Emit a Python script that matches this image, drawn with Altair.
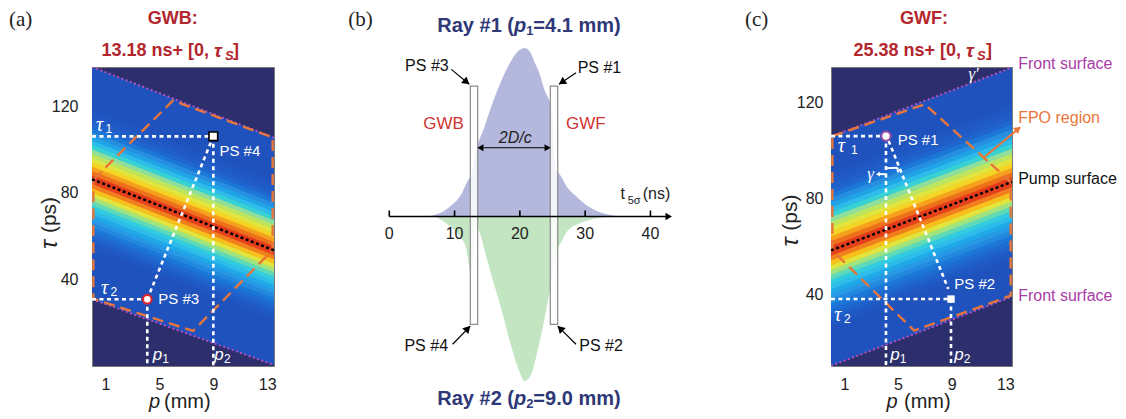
import math
import altair as alt
import pandas as pd

FONT = "Liberation Sans"
SERIF = "Liberation Serif"
NAVY = "#2c2f6c"
BG_BLUE = "#1f52bd"
FRAME = "#7a7a7a"
MAGENTA = "#b44fc2"
MAG_TEXT = "#a83da8"
ORANGE = "#e8763a"
TITLE_RED = "#b3262d"
LABEL_RED = "#cf3434"
RAY_BLUE = "#2f3877"
WHITE = "#ffffff"
INK = "#222222"

ONE = pd.DataFrame({"k": [0]})

# ---------------- heat-map band profile (offset from pump surface, ps) ----------------
band_edges = list(range(-32, 34, 2))
band_level = [0.16, 0.17, 0.19, 0.21, 0.23, 0.26, 0.29, 0.32, 0.36, 0.40, 0.46, 0.53,
              0.62, 0.72, 0.85, 0.97, 0.98, 0.88, 0.78, 0.68, 0.62, 0.56, 0.50, 0.42,
              0.36, 0.31, 0.27, 0.23, 0.20, 0.18, 0.17, 0.16]
level_domain = [0.15, 0.20, 0.28, 0.38, 0.50, 0.57, 0.65, 0.82, 1.0]
level_colors = ["#1f52bd", "#2166cf", "#2d94e2", "#3cc6ea", "#8fdf9c", "#c8e655",
                "#f3e42e", "#f48b22", "#e22b1c"]

front_p = [0.0, 13.5]
p_ticks = [1, 5, 9, 13]
tau_ticks = [40, 80, 120]

# ---------------- panel (a) GWB ----------------
a_tau_dom = [0, 138]
a_front_upper = [138.0, 105.4]
a_front_lower = [30.8, 0.5]
a_pump = [86.2, 53.4]
a_fpo_p = [0.1, 6.0, 13.4, 13.4, 7.5, 0.1, 0.1]
a_fpo_tau = [86.0, 122.5, 105.5, 53.5, 16.2, 31.0, 86.0]
a_ps_names = ["PS #3", "PS #4"]
a_ps_p = [4.1, 9.0]
a_ps_tau = [30.8, 106.0]

# ---------------- panel (c) GWF ----------------
c_tau_dom = [10.5, 134.7]
c_front_upper = [105.8, 134.5]
c_front_lower = [10.6, 39.3]
c_pump = [58.5, 87.0]
c_fpo_p = [0.1, 7.0, 13.4, 13.4, 6.2, 0.1, 0.1]
c_fpo_tau = [106.0, 119.2, 87.0, 39.7, 25.2, 58.5, 106.0]
c_ps_names = ["PS #1", "PS #2"]
c_ps_p = [4.1, 8.95]
c_ps_tau = [106.0, 38.3]
c_diag_p = [4.3, 8.75]
c_diag_tau = [104.0, 42.5]

# ---------------- panel (b) rays ----------------
ray1_t = [5.4, 6.4, 7.9, 9.4, 11.0, 12.0, 12.6, 13.3, 14.55, 15.6, 17.1, 18.6, 19.7, 20.7,
          21.5, 22.2, 23.0, 23.7, 24.9, 25.5, 25.9, 27.3, 28.9, 30.4, 32.4, 34.5, 36.0]
ray1_h = [0, 0.005, 0.022, 0.062, 0.13, 0.21, 0.25, 0.39, 0.53, 0.65, 0.80, 0.92, 0.98, 1.0,
          0.98, 0.92, 0.85, 0.76, 0.63, 0.27, 0.26, 0.17, 0.11, 0.062, 0.023, 0.005, 0]
ray2_t = [6.9, 8.9, 10.5, 11.75, 12.5, 13.45, 13.8, 14.6, 15.6, 17.1, 18.6, 19.9, 20.7, 21.7,
          22.7, 23.7, 24.7, 25.7, 25.9, 27.3, 29.4, 31.9, 34.0]
ray2_h = [0, 0.046, 0.106, 0.185, 0.33, 0.06, 0.09, 0.2, 0.343, 0.54, 0.76, 0.917, 0.976, 0.94,
          0.80, 0.62, 0.42, 0.19, 0.18, 0.086, 0.037, 0.01, 0]
b_ticks = [0, 10, 20, 30, 40]
win_t1 = [12.41, 24.66]
win_t2 = [13.54, 25.80]
win_top = 0.774
win_bottom = -0.64

B_T_DOM = [-10, 60]
B_H_DOM = [-0.887, 0.887]
W_A, W_B, W_C, H = 182, 457, 181, 299


def head_angle(dx_px, dy_px):
    return math.degrees(math.atan2(dx_px, -dy_px)) % 360


def heat_panel(tau_dom, upper, lower, pump, fpo_p, fpo_tau, segs, ylabpad):
    xs = alt.Scale(domain=front_p, nice=False, zero=False)
    ys = alt.Scale(domain=tau_dom, nice=False, zero=False)
    common = dict(title=None, ticks=False, tickSize=0, domain=False, grid=False,
                  labelFont=FONT, labelFontSize=16, labelColor=INK, labelFlush=False)
    xa = alt.Axis(values=p_ticks, labelPadding=10, **common)
    ya = alt.Axis(values=tau_ticks, labelPadding=ylabpad, **common)
    X = lambda f: alt.X(f"{f}:Q", scale=xs, axis=xa)
    Y = lambda f: alt.Y(f"{f}:Q", scale=ys, axis=ya)

    region = pd.DataFrame({"p": front_p, "lo": lower, "hi": upper})
    layers = [alt.Chart(region).mark_area(color=BG_BLUE, clip=True).encode(
        x=X("p"), y=Y("lo"), y2=alt.Y2("hi:Q"))]

    rows = []
    for k, lev in enumerate(band_level):
        for p, c in zip(front_p, pump):
            rows.append({"p": p, "lo": c + band_edges[k], "hi": c + band_edges[k + 1],
                         "level": lev, "stripe": k})
    cs = alt.Scale(domain=level_domain, range=level_colors)
    layers.append(alt.Chart(pd.DataFrame(rows)).mark_area(strokeWidth=0.8, clip=True).encode(
        x=X("p"), y=Y("lo"), y2=alt.Y2("hi:Q"),
        color=alt.Color("level:Q", scale=cs, legend=None),
        stroke=alt.Stroke("level:Q", scale=cs, legend=None),
        detail="stripe:N"))

    fr = pd.DataFrame({"p": front_p + front_p, "tau": upper + lower,
                       "which": ["u", "u", "l", "l"]})
    layers.append(alt.Chart(fr).mark_line(color=MAGENTA, strokeDash=[2, 2.5], strokeWidth=2,
                                          clip=True).encode(
        x=X("p"), y=Y("tau"), detail="which:N"))

    fpo = pd.DataFrame({"p": fpo_p, "tau": fpo_tau, "i": list(range(len(fpo_p)))})
    layers.append(alt.Chart(fpo).mark_line(color=ORANGE, strokeDash=[11, 6], strokeWidth=2.4).encode(
        x=X("p"), y=Y("tau"), order="i:Q"))

    pm = pd.DataFrame({"p": front_p, "tau": pump})
    layers.append(alt.Chart(pm).mark_line(color="black", strokeDash=[3, 2.5], strokeWidth=2.5).encode(
        x=X("p"), y=Y("tau")))

    sg = pd.DataFrame(segs, columns=["pa", "ta", "pb", "tb"])
    layers.append(alt.Chart(sg).mark_rule(color=WHITE, strokeDash=[4, 3.5], strokeWidth=2.6).encode(
        x=X("pa"), x2=alt.X2("pb:Q"), y=Y("ta"), y2=alt.Y2("tb:Q")))
    return X, Y, layers


def dtexts(X, Y, items, **kw):
    df = pd.DataFrame(items, columns=["p", "tau", "label"])
    style = dict(font=FONT, baseline="middle")
    style.update(kw)
    return alt.Chart(df).mark_text(**style).encode(x=X("p"), y=Y("tau"), text="label:N")


def ptext(label, x, y, **kw):
    style = dict(font=FONT, baseline="middle")
    style.update(kw)
    return alt.Chart(ONE).mark_text(text=label, **style).encode(x=alt.value(x), y=alt.value(y))


def title_block(head, prefix, center_x, prefix_right, tau_x, s_x, br_x):
    st = dict(fontWeight="bold", color=TITLE_RED)
    return [
        ptext(head, center_x, -47.7, fontSize=18, align="center", **st),
        ptext(prefix, prefix_right, -16, fontSize=18, align="right", **st),
        ptext("τ", tau_x, -16, fontSize=19, align="left", fontStyle="italic", **st),
        ptext("S", s_x, -11, fontSize=13, align="left", fontStyle="italic", **st),
        ptext("]", br_x, -16, fontSize=18, align="left", **st),
    ]


def axis_titles(xp, xmm, ytx):
    return [
        ptext("p", xp, 335, fontSize=20, fontStyle="italic", align="left", color=INK),
        ptext("(mm)", xmm, 335, fontSize=20, align="left", color=INK),
        ptext("τ", ytx[0], ytx[1], fontSize=24, fontStyle="italic", align="center", angle=270, color=INK),
        ptext("(ps)", ytx[0], ytx[2], fontSize=21, align="center", angle=270, color=INK),
    ]


# ================= panel (a) =================
a_segs = [
    (0, a_ps_tau[1], a_ps_p[1], a_ps_tau[1]),
    (0, a_ps_tau[0], a_ps_p[0], a_ps_tau[0]),
    (a_ps_p[0], a_ps_tau[0], a_ps_p[0], a_tau_dom[0]),
    (a_ps_p[1], a_ps_tau[1], a_ps_p[1], a_tau_dom[0]),
    (a_ps_p[0], a_ps_tau[0], a_ps_p[1], a_ps_tau[1]),
]
XA, YA, la = heat_panel(a_tau_dom, a_front_upper, a_front_lower, a_pump, a_fpo_p, a_fpo_tau, a_segs, 14)
ps3 = pd.DataFrame({"p": [a_ps_p[0]], "tau": [a_ps_tau[0]]})
ps4 = pd.DataFrame({"p": [a_ps_p[1]], "tau": [a_ps_tau[1]]})
la.append(alt.Chart(ps3).mark_point(shape="circle", filled=True, color=WHITE, stroke="#e0262a",
                                    strokeWidth=2.2, size=75, opacity=1).encode(x=XA("p"), y=YA("tau")))
la.append(alt.Chart(ps4).mark_point(shape="square", filled=True, color=WHITE, stroke="black",
                                    strokeWidth=1.6, size=75, opacity=1).encode(x=XA("p"), y=YA("tau")))
la.append(dtexts(XA, YA, [(9.45, 99.2, a_ps_names[1]), (4.92, 30.8, a_ps_names[0])],
                 fontSize=15, color=WHITE, align="left"))
la.append(dtexts(XA, YA, [(0.3, 108.5, "τ"), (0.67, 33.2, "τ")], font=SERIF, fontSize=20,
                 fontStyle="italic", color=WHITE, align="left", baseline="alphabetic"))
la.append(dtexts(XA, YA, [(1.0, 107.5, "1"), (1.37, 32.3, "2")], fontSize=12, color=WHITE,
                 align="left", baseline="alphabetic"))
la.append(dtexts(XA, YA, [(4.5, 2.8, "p"), (9.07, 2.8, "p")], fontSize=17, fontStyle="italic",
                 color=WHITE, align="left", baseline="alphabetic"))
la.append(dtexts(XA, YA, [(5.22, 1.4, "1"), (9.79, 1.4, "2")], fontSize=12, color=WHITE,
                 align="left", baseline="alphabetic"))
la += title_block("GWB:", "13.18 ns+ [0,", 80.7, 117, 122, 133, 141)
la += axis_titles(57, 72, (-42, 177.5, 148))
la.append(ptext("(a)", -83, -47.5, font=SERIF, fontSize=21, align="left", color=INK))
la.append(alt.Chart(ONE).mark_rect(opacity=0).encode(
    x=alt.value(-83), x2=alt.value(-82), y=alt.value(-58), y2=alt.value(-57)))
chart_a = alt.layer(*la).properties(width=W_A, height=H,
                                    view=alt.ViewBackground(fill=NAVY, stroke=FRAME, strokeWidth=1))

# ================= panel (b) =================
KXB = W_B / (B_T_DOM[1] - B_T_DOM[0])
KYB = H / (B_H_DOM[1] - B_H_DOM[0])
xsb = alt.Scale(domain=B_T_DOM, nice=False, zero=False)
ysb = alt.Scale(domain=B_H_DOM, nice=False, zero=False)
XB = lambda f: alt.X(f"{f}:Q", scale=xsb, axis=None)
YB = lambda f: alt.Y(f"{f}:Q", scale=ysb, axis=None)

r1 = pd.DataFrame({"t": ray1_t, "h": ray1_h})
r2 = pd.DataFrame({"t": ray2_t, "h": [-v for v in ray2_h]})
lb = [
    alt.Chart(r1).mark_area(color="#b5b8dd", interpolate="monotone").encode(
        x=XB("t"), y=YB("h"), y2=alt.datum(0)),
    alt.Chart(r2).mark_area(color="#c3e5c2", interpolate="monotone").encode(
        x=XB("t"), y=YB("h"), y2=alt.datum(0)),
]
win = pd.DataFrame({"t1": win_t1, "t2": win_t2, "h1": [win_top] * 2, "h2": [win_bottom] * 2})
lb.append(alt.Chart(win).mark_rect(fill=WHITE, fillOpacity=0.85, stroke="#8a8a8a",
                                   strokeWidth=1.2).encode(
    x=XB("t1"), x2=alt.X2("t2:Q"), y=YB("h1"), y2=alt.Y2("h2:Q")))
axis_end = 42.8
lb.append(alt.Chart(pd.DataFrame({"t1": [0], "t2": [axis_end], "h": [0]})).mark_rule(
    color="black", strokeWidth=1.6).encode(x=XB("t1"), x2=alt.X2("t2:Q"), y=YB("h")))
tk = pd.DataFrame({"t": b_ticks, "h1": [0] * len(b_ticks), "h2": [6 / KYB] * len(b_ticks),
                   "lab": [str(v) for v in b_ticks]})
lb.append(alt.Chart(tk).mark_rule(color="black", strokeWidth=1.6).encode(
    x=XB("t"), y=YB("h1"), y2=alt.Y2("h2:Q")))
lb.append(alt.Chart(tk).mark_text(font=FONT, fontSize=16, color=INK, baseline="middle").encode(
    x=XB("t"), y=alt.Y("lo:Q", scale=ysb, axis=None), text="lab:N").transform_calculate(lo="-0.106"))

# arrows
arr_ts = [9.5, 28.6, 9.7, 28.6]
arr_hs = [0.873, 0.853, -0.758, -0.758]
arr_te = [12.25, 26.0, 12.4, 25.8]
arr_he = [0.785, 0.785, -0.65, -0.65]
heads = []
for ts, hs, te, he in zip(arr_ts, arr_hs, arr_te, arr_he):
    dx, dy = (te - ts) * KXB, -(he - hs) * KYB
    n = math.hypot(dx, dy)
    heads.append({"t": te - 3.5 * dx / n / KXB, "h": he + 3.5 * dy / n / KYB,
                  "ang": head_angle(dx, dy), "size": 70})
heads.append({"t": 13.95, "h": 0.408, "ang": 270, "size": 50})
heads.append({"t": 24.25, "h": 0.408, "ang": 90, "size": 50})
heads.append({"t": axis_end, "h": 0, "ang": 90, "size": 55})
arr = pd.DataFrame({"t1": arr_ts + [13.7], "h1": arr_hs + [0.408],
                    "t2": arr_te + [24.5], "h2": arr_he + [0.408]})
lb.append(alt.Chart(arr).mark_rule(color="black", strokeWidth=1.2).encode(
    x=XB("t1"), x2=alt.X2("t2:Q"), y=YB("h1"), y2=alt.Y2("h2:Q")))
lb.append(alt.Chart(pd.DataFrame(heads)).mark_point(shape="triangle-up", filled=True, color="black",
                                                    opacity=1).encode(
    x=XB("t"), y=YB("h"), angle=alt.Angle("ang:Q", scale=None), size=alt.Size("size:Q", scale=None)))

lb.append(dtexts(XB, YB, [(9.1, 0.893, "PS #3"), (9.0, -0.769, "PS #4")], fontSize=16,
                 color="#111111", align="right"))
lb.append(dtexts(XB, YB, [(28.85, 0.883, "PS #1"), (29.1, -0.769, "PS #2")], fontSize=16,
                 color="#111111", align="left"))
lb.append(dtexts(XB, YB, [(8.3, 0.547, "GWB"), (30.1, 0.547, "GWF")], fontSize=17,
                 color=LABEL_RED, align="center"))
lb.append(dtexts(XB, YB, [(19.3, 0.468, "2D/c")], fontSize=16, fontStyle="italic",
                 color=INK, align="center"))
lb.append(dtexts(XB, YB, [(35.4, 0.104, "t"), (38.81, 0.104, "(ns)")], fontSize=16, color=INK,
                 align="left", baseline="alphabetic"))
lb.append(dtexts(XB, YB, [(36.51, 0.074, "5σ")], fontSize=11, color=INK, align="left",
                 baseline="alphabetic"))
ray_style = dict(fontWeight="bold", color=RAY_BLUE)
for h, sub, rest in [(1.13, "1", "=4.1 mm)"), (-1.083, "2", "=9.0 mm)")]:
    label = "Ray #" + sub + " ("
    lb.append(dtexts(XB, YB, [(19.1, h, label)], fontSize=20, align="right", **ray_style))
    lb.append(dtexts(XB, YB, [(19.1, h, "p")], fontSize=20, fontStyle="italic", align="left", **ray_style))
    lb.append(dtexts(XB, YB, [(20.97, h - 5 / KYB, sub)], fontSize=13, align="left", **ray_style))
    lb.append(dtexts(XB, YB, [(22.07, h, rest)], fontSize=20, align="left", **ray_style))
lb.append(ptext("(b)", 24.3, -47.5, font=SERIF, fontSize=21, align="left", color=INK))
chart_b = alt.layer(*lb).properties(width=W_B, height=H)

# ================= panel (c) =================
c_bottom = c_tau_dom[0]
c_segs = [
    (0, c_ps_tau[0], c_ps_p[0], c_ps_tau[0]),
    (0, c_ps_tau[1], c_ps_p[1], c_ps_tau[1]),
    (c_ps_p[0], c_ps_tau[0], c_ps_p[0], c_bottom),
    (c_ps_p[1], c_ps_tau[1], c_ps_p[1], c_bottom),
    (c_diag_p[0], c_diag_tau[0], c_diag_p[1], c_diag_tau[1]),
]
XC, YC, lc = heat_panel(c_tau_dom, c_front_upper, c_front_lower, c_pump, c_fpo_p, c_fpo_tau, c_segs, 8)
KXC = W_C / (front_p[1] - front_p[0])
KYC = H / (c_tau_dom[1] - c_tau_dom[0])
ps1 = pd.DataFrame({"p": [c_ps_p[0]], "tau": [c_ps_tau[0]]})
ps2 = pd.DataFrame({"p": [c_ps_p[1]], "tau": [c_ps_tau[1]]})
lc.append(alt.Chart(ps1).mark_point(shape="circle", filled=True, color=WHITE, stroke="#9b4aa5",
                                    strokeWidth=2, size=85, opacity=1).encode(x=XC("p"), y=YC("tau")))
lc.append(alt.Chart(ps2).mark_point(shape="square", filled=True, color=WHITE, size=55,
                                    opacity=1).encode(x=XC("p"), y=YC("tau")))
# FPO region arrow and small angle marks
fpo_arrow = pd.DataFrame({"p1": [11.4, 11.12, 3.5, 4.1, 4.95], "t1": [97.1, 98.5, 90.2, 92.6, 92.9],
                          "p2": [14.1, 11.68, 4.05, 4.95, 5.0], "t2": [109.6, 95.7, 90.2, 92.9, 90.9],
                          "c": ["o", "o", "w", "w", "w"]})
lc.append(alt.Chart(fpo_arrow).mark_rule(strokeWidth=2).encode(
    x=XC("p1"), x2=alt.X2("p2:Q"), y=YC("t1"), y2=alt.Y2("t2:Q"),
    color=alt.Color("c:N", scale=alt.Scale(domain=["o", "w"], range=[ORANGE, WHITE]), legend=None)))
dxa, dya = (14.1 - 11.4) * KXC, -(109.6 - 97.1) * KYC
c_heads = pd.DataFrame({"p": [14.1 - 0.15, 3.5], "tau": [109.6 - 0.6, 90.2],
                        "ang": [head_angle(dxa, dya), 270], "size": [60, 22], "c": ["o", "w"]})
lc.append(alt.Chart(c_heads).mark_point(shape="triangle-up", filled=True, opacity=1).encode(
    x=XC("p"), y=YC("tau"), angle=alt.Angle("ang:Q", scale=None), size=alt.Size("size:Q", scale=None),
    color=alt.Color("c:N", scale=alt.Scale(domain=["o", "w"], range=[ORANGE, WHITE]), legend=None)))
lc.append(dtexts(XC, YC, [(4.97, 104.4, c_ps_names[0]), (9.2, 44.5, c_ps_names[1])],
                 fontSize=15, color=WHITE, align="left"))
lc.append(dtexts(XC, YC, [(0.5, 99.4, "τ"), (0.25, 29.3, "τ")], font=SERIF, fontSize=20,
                 fontStyle="italic", color=WHITE, align="left", baseline="alphabetic"))
lc.append(dtexts(XC, YC, [(1.49, 98.6, "1"), (0.97, 28.5, "2")], fontSize=12, color=WHITE,
                 align="left", baseline="alphabetic"))
lc.append(dtexts(XC, YC, [(4.42, 13.1, "p"), (9.2, 13.1, "p")], fontSize=17, fontStyle="italic",
                 color=WHITE, align="left", baseline="alphabetic"))
lc.append(dtexts(XC, YC, [(5.12, 11.9, "1"), (9.9, 11.9, "2")], fontSize=12, color=WHITE,
                 align="left", baseline="alphabetic"))
lc.append(dtexts(XC, YC, [(2.7, 90.2, "γ"), (10.25, 131.8, "γ′")], font=SERIF, fontSize=17,
                 fontStyle="italic", color=WHITE, align="left"))
lc.append(dtexts(XC, YC, [(13.96, 135.8, "Front surface"), (13.96, 39.7, "Front surface")],
                 fontSize=16, color=MAG_TEXT, align="left"))
lc.append(dtexts(XC, YC, [(13.96, 113.7, "FPO region")], fontSize=16, color=ORANGE, align="left"))
lc.append(dtexts(XC, YC, [(13.96, 88.1, "Pump surface")], fontSize=16, color="#111111", align="left"))
lc += title_block("GWF:", "25.38 ns+ [0,", 93, 130, 135, 146, 155)
lc += axis_titles(55.5, 73, (-40, 175, 145.7))
lc.append(ptext("(c)", -86, -47.5, font=SERIF, fontSize=21, align="left", color=INK))
chart_c = alt.layer(*lc).properties(width=W_C, height=H,
                                    view=alt.ViewBackground(fill=NAVY, stroke=FRAME, strokeWidth=1))

chart = alt.hconcat(chart_a, chart_b, chart_c, spacing=50, bounds="flush").properties(
    padding=0).configure_view(stroke="transparent")
chart.save("out.html", embed_options={"renderer": "svg", "actions": False})
